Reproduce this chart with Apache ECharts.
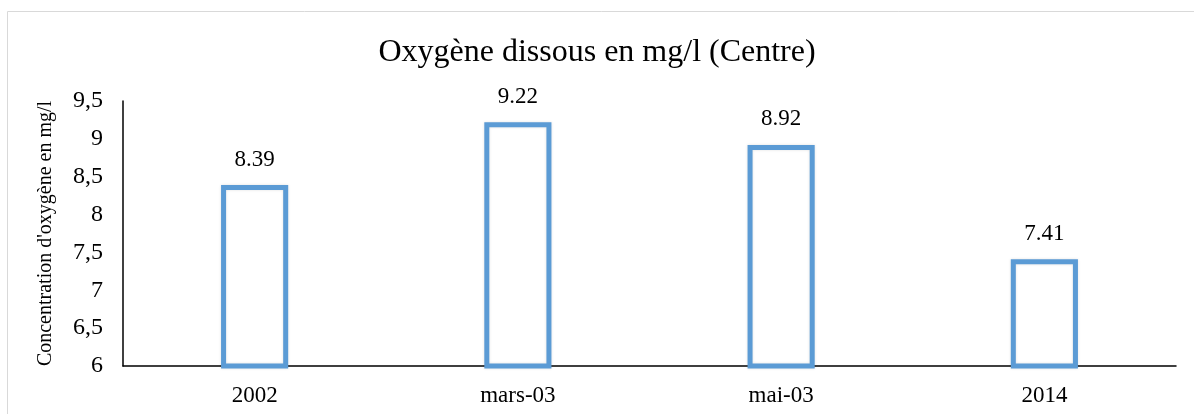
<!DOCTYPE html>
<html>
<head>
<meta charset="utf-8">
<script src="https://cdn.jsdelivr.net/npm/echarts@6/dist/echarts.min.js"></script>
<style>
  html, body { margin: 0; padding: 0; background: #fff; }
  #chart { width: 1194px; height: 414px; }
</style>
</head>
<body>
<div id="chart"></div>
<script>
// data
const categories = ['2002', 'mars-03', 'mai-03', '2014'];
const oxygenValues = [8.39, 9.22, 8.92, 7.41];
const yTicks = { min: 6, max: 9.5, step: 0.5 };

const chart = echarts.init(document.getElementById('chart'));
const serif = '"Liberation Serif", "DejaVu Serif", serif';

const option = {
  animation: false,
  textStyle: { fontFamily: serif },
  title: {
    text: 'Oxygène dissous en mg/l (Centre)',
    left: 'center',
    top: 32,
    textStyle: { fontFamily: serif, fontSize: 32, fontWeight: 'normal', color: '#000' }
  },
  graphic: [
    {
      type: 'rect',
      shape: { x: 7.5, y: 11.5, width: 1200, height: 420 },
      style: { fill: 'none', stroke: '#d9d9d9', lineWidth: 1 },
      silent: true
    }
  ],
  grid: { left: 123, right: 18, top: 101, bottom: 48, containLabel: false },
  xAxis: {
    type: 'category',
    data: categories,
    axisLine: { lineStyle: { color: '#000', width: 1.5 } },
    axisTick: { show: false },
    axisLabel: { color: '#000', fontSize: 23, fontFamily: serif, margin: 18 }
  },
  yAxis: {
    type: 'value',
    min: yTicks.min,
    max: yTicks.max,
    interval: yTicks.step,
    name: "Concentration d'oxygène en mg/l",
    nameLocation: 'middle',
    nameGap: 67,
    nameTextStyle: { color: '#000', fontSize: 20, fontFamily: serif },
    axisLine: { show: true, lineStyle: { color: '#000', width: 1.5 } },
    axisTick: { show: false },
    splitLine: { show: false },
    axisLabel: {
      color: '#000', fontSize: 24, fontFamily: serif, margin: 20,
      formatter: v => String(v).replace('.', ',')
    }
  },
  series: [
    {
      type: 'bar',
      data: oxygenValues,
      barWidth: '25.5%',
      itemStyle: {
        color: '#ffffff',
        borderColor: '#5b9bd5',
        borderWidth: 5,
        shadowColor: 'rgba(0,0,0,0.12)',
        shadowBlur: 3
      },
      label: {
        show: true,
        position: 'top',
        distance: 14,
        color: '#000',
        fontSize: 23,
        fontFamily: serif,
        formatter: p => p.value.toFixed(2)
      }
    }
  ]
};

chart.setOption(option);
</script>
</body>
</html>
